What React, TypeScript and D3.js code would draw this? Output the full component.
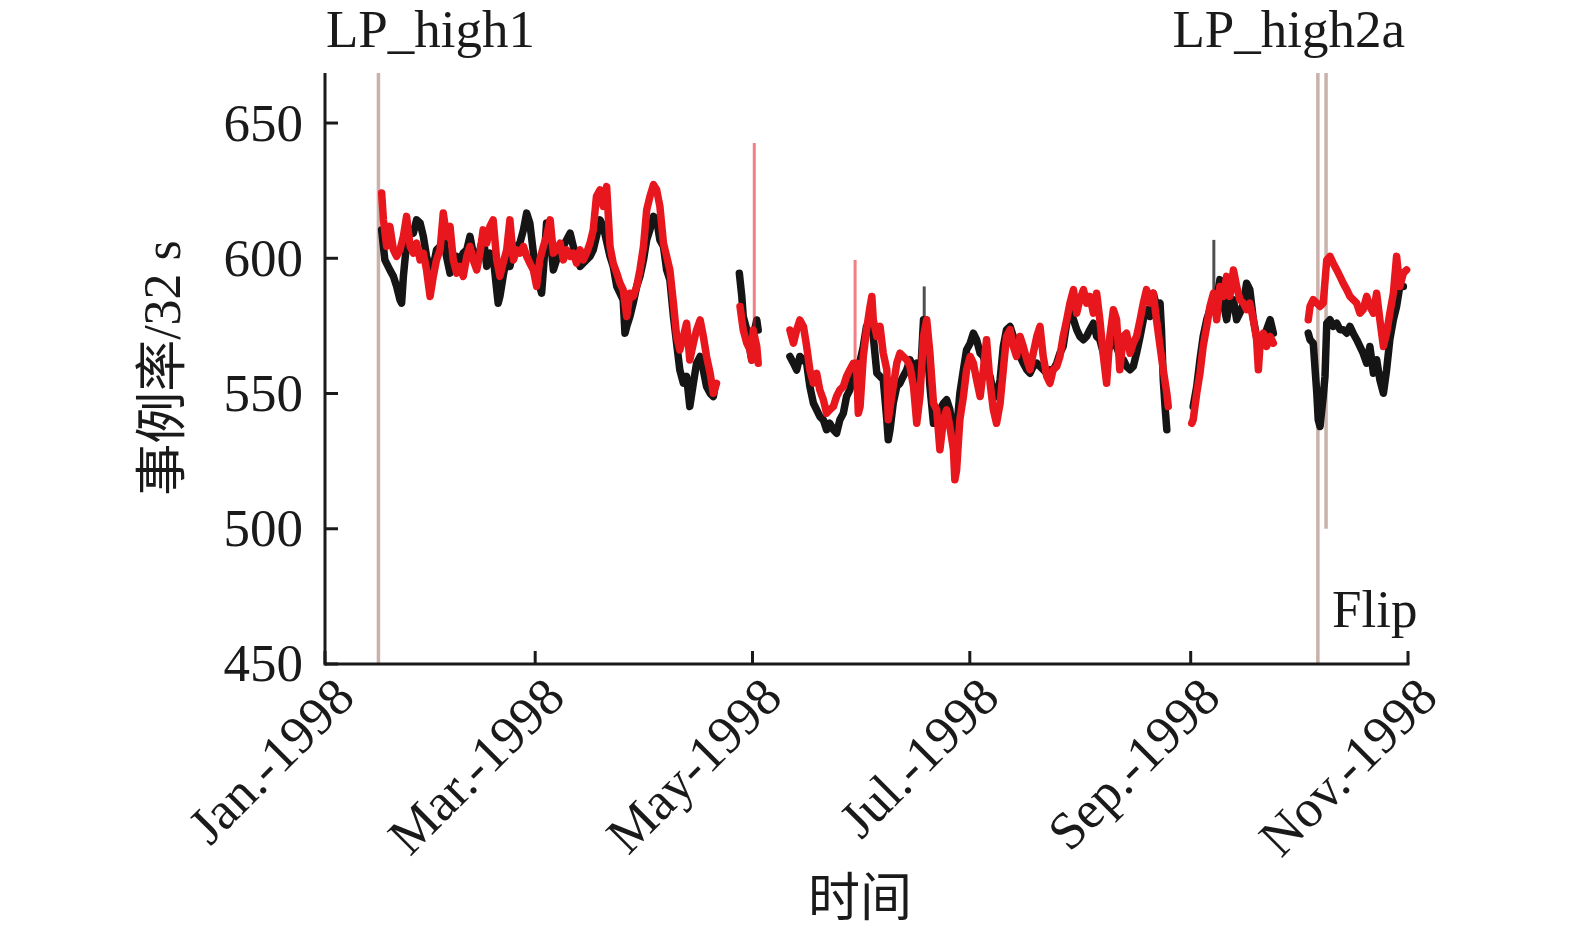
import React from "react";
import * as d3 from "d3";

// ---- data (day offsets from 1 Jan 1998, counts per 32 s) ----
const black1: [number, number][] = [[15.9,610.5],[16.8,599.4],[18.2,595.7],[19.2,593.3],[20.1,589.6],[21.05,584.6],[21.5,583.4],[22.0,593.3],[22.9,605.6],[23.9,610.5],[24.8,609.3],[25.7,614.2],[26.7,613.0],[27.6,608.1],[28.5,600.7],[29.5,595.7],[30.4,597.0],[31.3,603.1],[32.3,604.4],[33.2,608.1],[34.1,600.7],[35.1,594.5],[36.0,599.4],[36.95,600.7],[37.9,599.4],[38.8,601.9],[39.8,603.1],[40.7,608.1],[41.6,601.9],[42.6,599.4],[43.5,603.1],[44.4,608.1],[45.4,597.0],[46.3,601.9],[47.2,600.7],[48.2,588.3],[48.6,583.4],[49.1,585.9],[50.0,593.3],[51.0,600.7],[51.9,597.0],[52.9,603.1],[53.8,604.4],[54.7,605.6],[55.7,610.5],[56.6,616.7],[57.5,613.0],[58.5,601.9],[59.4,595.7],[60.3,589.6],[60.8,587.1],[61.3,595.7],[62.2,613.0],[63.2,608.1],[64.1,595.7],[65.0,599.4],[66.0,603.1],[66.9,604.4],[67.8,606.8],[68.8,609.3],[69.7,604.4],[70.6,600.7],[71.6,597.0],[72.5,598.2],[73.4,599.4],[74.4,600.7],[75.3,603.1],[76.2,608.1],[77.2,614.2],[78.1,611.8],[80.0,600.7],[80.9,597.0],[81.9,589.6],[82.8,587.1],[83.7,584.6],[84.2,572.3],[84.7,574.8],[85.6,578.5],[86.5,583.4],[87.5,589.6],[88.4,593.3],[89.4,599.4],[90.3,606.8],[91.2,610.5],[92.2,615.5],[93.1,614.2],[94.0,606.8],[95.0,604.4],[95.9,595.7],[96.8,592.0],[97.8,578.5],[98.7,568.6],[99.6,558.7],[100.6,553.8],[101.5,556.3],[102.4,545.2],[103.4,553.8],[104.3,561.2],[105.3,563.7],[106.2,558.7],[107.1,552.6],[108.1,550.1],[109.0,548.9],[109.5,552.6]];
const black2: [number, number][] = [[116.3,594.5],[117.0,585.9],[117.4,578.5],[118.4,573.5],[119.3,566.1],[119.8,562.4],[120.2,571.1],[121.2,577.2],[121.6,573.5]];
const black3: [number, number][] = [[130.5,563.7],[131.5,561.2],[132.4,558.7],[133.3,563.7],[134.3,562.4],[135.2,561.2],[136.1,552.6],[137.1,546.4],[138.0,544.0],[138.9,541.5],[139.9,540.2],[140.8,536.6],[141.7,539.0],[142.7,536.6],[143.6,535.3],[144.5,540.2],[145.5,542.7],[146.4,548.9],[147.3,551.3],[148.3,556.3],[149.2,558.7],[150.2,562.0],[151.1,567.4],[152.0,574.8],[153.0,577.3],[153.9,571.1],[154.9,557.5],[155.8,556.3],[156.7,555.1],[157.7,540.3],[158.1,532.9],[158.6,536.6],[159.5,546.4],[160.5,552.6],[161.4,553.8],[162.3,556.3],[163.3,558.8],[164.2,562.5],[165.2,558.8],[166.1,561.2],[167.0,552.6],[168.0,577.3],[168.9,571.1],[169.8,552.6],[170.8,539.0],[171.7,540.3],[172.6,544.0],[173.6,546.4],[174.5,547.7],[175.4,544.0],[176.4,534.1],[177.3,536.6],[178.2,550.1],[179.2,558.8],[180.1,566.2],[181.1,568.6],[182.0,572.3],[182.9,569.9],[183.9,564.9],[184.8,563.7],[185.7,558.8],[186.7,556.3],[187.6,550.1],[188.5,548.9],[189.5,555.1],[190.4,567.4],[191.3,573.6],[192.3,574.8],[193.2,571.1],[194.1,567.4],[195.1,563.7],[196.0,561.2],[197.0,558.8],[197.9,557.5],[198.8,560.0],[199.8,561.2],[200.7,560.0],[201.6,558.8],[202.6,557.5],[203.5,558.8],[204.4,558.8],[205.4,561.2],[206.3,564.9],[207.2,567.4],[208.2,576.0],[209.1,581.0],[210.1,577.3],[211.0,573.6],[211.9,571.1],[212.9,569.9],[213.8,571.1],[214.7,573.6],[215.7,576.0],[216.6,571.1],[217.5,569.9],[218.5,564.9],[219.4,563.7],[220.3,567.4],[221.3,571.1],[222.2,567.4],[223.1,563.7],[224.1,562.5],[225.0,560.0],[226.0,558.8],[226.9,560.0],[227.8,564.9],[228.8,571.1],[229.7,577.3],[230.6,581.0],[231.6,578.5],[232.5,587.1],[233.4,582.2],[234.4,583.4],[234.8,573.6],[235.3,555.1],[235.8,545.2],[236.3,536.6]];
const black4: [number, number][] = [[243.7,545.2],[244.7,552.6],[245.6,562.5],[246.5,571.1],[247.5,577.3],[248.4,581.0],[249.4,585.0],[250.3,584.7],[251.2,592.1],[252.2,583.4],[253.1,577.3],[254.0,584.7],[255.0,584.7],[255.9,577.3],[256.8,579.7],[257.8,583.4],[258.7,590.8],[259.6,588.4],[260.6,577.3],[261.5,571.1],[262.5,568.6],[263.4,569.9],[264.3,573.6],[265.3,577.3],[266.2,572.3]];
const black5: [number, number][] = [[276.0,572.3],[276.5,569.9],[277.4,568.6],[278.4,550.1],[278.8,540.3],[279.3,537.8],[280.2,548.9],[280.7,556.3],[281.2,576.0],[282.1,577.3],[283.0,574.8],[284.0,576.0],[284.9,573.6],[285.8,573.6],[286.8,572.3],[287.7,574.8],[288.6,572.3],[289.6,569.9],[290.5,567.4],[291.4,564.9],[292.4,561.2],[293.3,567.4],[294.3,557.5],[295.2,562.5],[296.1,555.1],[297.1,550.1],[298.0,558.8],[298.9,569.9],[299.9,577.3],[300.8,582.2],[301.7,589.6],[302.7,589.6]];

const red1: [number, number][] = [[15.9,624.1],[16.4,614.2],[17.3,604.4],[18.2,611.8],[19.2,603.1],[20.1,600.7],[21.05,603.1],[22.0,608.1],[22.9,615.5],[23.9,604.4],[24.8,601.9],[25.7,605.6],[26.7,599.4],[27.6,601.9],[28.5,595.7],[29.5,585.9],[30.4,593.3],[31.3,599.4],[32.3,603.1],[33.2,616.7],[34.1,608.1],[35.1,611.8],[36.0,599.4],[36.95,594.5],[37.9,597.0],[38.8,593.3],[39.8,600.7],[40.7,604.4],[41.6,599.4],[42.6,595.7],[43.5,601.9],[44.4,610.5],[45.4,605.6],[46.3,611.8],[47.2,614.2],[48.2,599.4],[49.1,593.3],[50.0,598.2],[51.0,603.1],[51.9,614.2],[52.9,599.4],[53.8,603.1],[54.7,601.9],[55.7,604.4],[56.6,600.7],[57.5,598.2],[58.5,595.7],[59.4,589.6],[60.3,599.4],[61.3,604.4],[62.2,608.1],[63.2,614.2],[64.1,601.9],[65.0,603.1],[66.0,605.6],[66.9,599.4],[67.8,603.1],[68.8,600.7],[69.7,601.9],[70.6,598.2],[71.6,603.1],[72.5,599.4],[73.4,601.9],[74.4,605.6],[75.3,610.5],[76.2,622.9],[77.2,625.3],[78.1,619.2],[79.06,626.5],[80.0,604.4],[80.9,598.2],[81.9,594.5],[82.8,590.8],[83.7,588.3],[84.7,578.5],[85.6,587.1],[86.5,585.9],[87.5,589.6],[88.4,595.7],[89.4,604.4],[90.3,617.9],[91.2,622.8],[92.2,627.2],[93.1,625.3],[94.0,619.2],[95.0,605.6],[95.9,600.7],[96.8,595.7],[97.8,583.4],[98.7,571.1],[99.6,566.1],[100.6,571.1],[101.5,576.0],[102.4,562.4],[103.4,568.6],[104.3,573.5],[105.3,577.2],[106.2,571.1],[107.1,563.7],[108.1,557.5],[109.0,550.1],[109.9,553.8]];
const red2: [number, number][] = [[116.5,582.2],[117.4,573.5],[118.4,568.6],[119.3,566.1],[119.8,562.4],[120.2,573.5],[121.2,567.4],[121.6,561.2]];
const red3: [number, number][] = [[130.5,573.5],[131.5,568.6],[132.4,573.5],[133.3,577.2],[134.3,574.8],[135.2,567.4],[136.1,558.7],[137.1,553.8],[138.0,557.5],[138.9,551.3],[139.9,547.7],[140.8,542.7],[141.7,544.0],[142.7,545.2],[143.6,548.9],[144.5,551.3],[145.5,552.6],[146.4,556.3],[147.3,558.7],[148.3,561.2],[149.2,561.2],[149.7,542.7],[150.2,545.2],[151.1,563.7],[152.0,573.5],[153.0,582.2],[153.5,585.9],[153.9,577.3],[154.9,571.1],[155.8,574.8],[156.7,564.9],[157.7,558.8],[158.1,540.3],[159.5,552.6],[160.5,561.2],[161.4,564.9],[162.3,563.7],[163.3,562.5],[164.2,560.0],[165.2,552.6],[166.1,539.0],[167.0,548.9],[168.0,571.1],[168.9,577.3],[169.8,564.9],[170.8,546.4],[171.7,544.0],[172.6,529.2],[173.6,540.3],[174.5,544.0],[175.4,537.8],[176.4,529.2],[176.8,518.1],[177.3,521.8],[178.2,540.3],[179.2,548.9],[180.1,558.8],[181.1,563.7],[182.0,561.2],[182.9,555.1],[183.9,548.9],[184.8,558.8],[185.7,569.9],[186.7,553.8],[187.6,544.0],[188.5,539.0],[189.5,546.4],[190.4,558.8],[191.3,571.1],[192.3,573.6],[193.2,567.4],[194.1,563.7],[195.1,571.1],[196.0,567.4],[197.0,562.5],[197.9,558.8],[198.8,564.9],[199.8,571.1],[200.7,574.8],[201.6,563.7],[202.6,556.3],[203.5,553.8],[204.4,558.8],[205.4,560.0],[206.3,563.7],[207.2,571.1],[208.2,577.3],[209.1,583.4],[210.1,588.4],[211.0,579.7],[211.9,584.7],[212.9,588.4],[213.8,583.4],[214.7,585.9],[215.7,579.7],[216.6,587.1],[217.5,577.3],[218.5,563.7],[219.4,553.8],[220.3,571.1],[221.3,581.0],[222.2,577.3],[223.1,558.8],[224.1,571.1],[225.0,572.3],[226.0,564.9],[226.9,568.6],[227.8,571.1],[228.8,577.3],[229.7,583.4],[230.6,588.4],[231.6,583.4],[232.5,587.1],[233.4,577.3],[234.4,567.4],[235.3,558.8],[236.3,550.1],[236.7,545.2]];
const red4: [number, number][] = [[243.3,539.0],[243.7,540.3],[244.7,550.1],[245.6,557.5],[246.5,567.4],[247.5,574.8],[248.4,582.2],[249.4,587.1],[250.3,577.3],[251.2,589.6],[252.2,585.9],[253.1,593.3],[254.0,585.9],[255.0,595.7],[255.9,589.6],[256.8,584.7],[257.8,583.4],[258.7,581.0],[259.6,583.4],[260.6,577.3],[261.5,569.9],[262.0,558.8],[262.5,568.6],[263.4,572.3],[264.3,567.4],[265.3,571.1],[266.2,568.6]];
const red5: [number, number][] = [[276.0,577.3],[276.5,582.2],[277.4,584.7],[278.4,583.4],[279.3,582.2],[280.2,583.4],[281.2,599.4],[282.1,600.7],[283.0,598.2],[284.0,595.7],[284.9,593.3],[285.8,590.8],[286.8,588.4],[287.7,585.9],[288.6,584.7],[289.6,583.4],[290.5,579.7],[291.4,581.0],[292.4,585.9],[293.3,582.2],[294.3,579.7],[295.2,587.1],[296.1,577.3],[297.1,567.4],[298.0,572.3],[298.9,579.7],[299.9,587.1],[300.8,600.7],[301.7,589.6],[302.7,594.5],[303.6,595.7]];

// isolated single-sample spikes: [day, base value, peak value]
const blackSpikes: [number, number, number][] = [[168.2, 570, 589.6], [249.5, 585, 606.8]];
const redSpikes: [number, number, number][] = [[120.5, 572, 642.6], [148.8, 560, 599.4]];

const blackSegments = [black1, black2, black3, black4, black5];
const redSegments = [red1, red2, red3, red4, red5];

const yTicks = [450, 500, 550, 600, 650];
const tickMonths = [0, 2, 4, 6, 8, 10];
const tickLabels = ["Jan.-1998", "Mar.-1998", "May-1998", "Jul.-1998", "Sep.-1998", "Nov.-1998"];

// vertical event markers: day offset and lower end value
const markerDays = [15.0, 278.7, 281.0];
const markerBottoms = [450, 450, 500];

const yTitle = "事例率/32 s";
const xTitle = "时间";
const topLabels = ["LP_high1", "LP_high2a"];
const flipLabel = "Flip";

const DAY = 86400000;
const t0 = Date.UTC(1998, 0, 1);
const toDate = (d: number) => new Date(t0 + d * DAY);

export default function App() {
  const W = 1575, H = 945;
  const left = 325, right = 1408, top = 73, bottom = 664;
  const x = d3.scaleUtc().domain([toDate(0), new Date(Date.UTC(1998, 10, 1))]).range([left, right]);
  const y = d3.scaleLinear().domain([450, 668.5]).range([bottom, top]);
  const line = d3.line<[number, number]>().x(d => x(toDate(d[0]))).y(d => y(d[1]));

  const font = "'Liberation Serif', 'Times New Roman', 'Noto Sans CJK SC', serif";
  const fs = 53;
  const axisColor = "#1a1a1a";
  const black = "#151515";
  const red = "#e8161d";
  const bandW = 7.5;

  return (
    <svg width={W} height={H} style={{ position: "absolute", left: 0, top: 0, background: "#fff" }}
      fontFamily={font}>
      <rect x={0} y={0} width={W} height={H} fill="#fff" />
      {/* markers */}
      {markerDays.map((d, i) => (
        <line key={"m" + i} x1={x(toDate(d))} x2={x(toDate(d))} y1={top} y2={y(markerBottoms[i])}
          stroke="#c9b2ab" strokeWidth={3.5} />
      ))}
      {/* data */}
      {blackSpikes.map((s, i) => (
        <line key={"bs" + i} x1={x(toDate(s[0]))} x2={x(toDate(s[0]))} y1={y(s[1])} y2={y(s[2])}
          stroke={black} strokeWidth={3} strokeOpacity={0.75} />
      ))}
      {blackSegments.map((s, i) => (
        <path key={"b" + i} d={line(s) || ""} fill="none" stroke={black} strokeWidth={bandW}
          strokeLinejoin="round" strokeLinecap="round" />
      ))}
      {redSegments.map((s, i) => (
        <path key={"r" + i} d={line(s) || ""} fill="none" stroke={red} strokeWidth={bandW}
          strokeLinejoin="round" strokeLinecap="round" />
      ))}
      {redSpikes.map((s, i) => (
        <line key={"rs" + i} x1={x(toDate(s[0]))} x2={x(toDate(s[0]))} y1={y(s[1])} y2={y(s[2])}
          stroke={red} strokeWidth={3} strokeOpacity={0.55} />
      ))}
      {/* axes */}
      <line x1={left} x2={left} y1={top} y2={bottom + 1.5} stroke={axisColor} strokeWidth={3} />
      <line x1={left} x2={right + 1.5} y1={bottom} y2={bottom} stroke={axisColor} strokeWidth={3} />
      {yTicks.map(v => (
        <g key={"yt" + v}>
          <line x1={left} x2={left + 13} y1={y(v)} y2={y(v)} stroke={axisColor} strokeWidth={3} />
          <text x={303} y={y(v)} dy="0.33em" textAnchor="end" fontSize={fs} fill={axisColor}>{v}</text>
        </g>
      ))}
      {tickMonths.map((m, i) => {
        const tx = x(new Date(Date.UTC(1998, m, 1)));
        return (
          <g key={"xt" + m}>
            <line x1={tx} x2={tx} y1={bottom} y2={bottom - 13} stroke={axisColor} strokeWidth={3} />
            <text transform={`translate(${tx + 32},${bottom + 36}) rotate(-45)`} textAnchor="end"
              fontSize={fs} fill={axisColor}>{tickLabels[i]}</text>
          </g>
        );
      })}
      {/* titles */}
      <text transform="translate(180,368) rotate(-90)" textAnchor="middle" fontSize={52} fill={axisColor}>{yTitle}</text>
      <text x={860} y={916} textAnchor="middle" fontSize={52} fill={axisColor}>{xTitle}</text>
      <text x={326} y={47} fontSize={fs} fill={axisColor}>{topLabels[0]}</text>
      <text x={1405} y={47} textAnchor="end" fontSize={fs} fill={axisColor}>{topLabels[1]}</text>
      <text x={1332} y={627} fontSize={fs} fill={axisColor}>{flipLabel}</text>
    </svg>
  );
}
